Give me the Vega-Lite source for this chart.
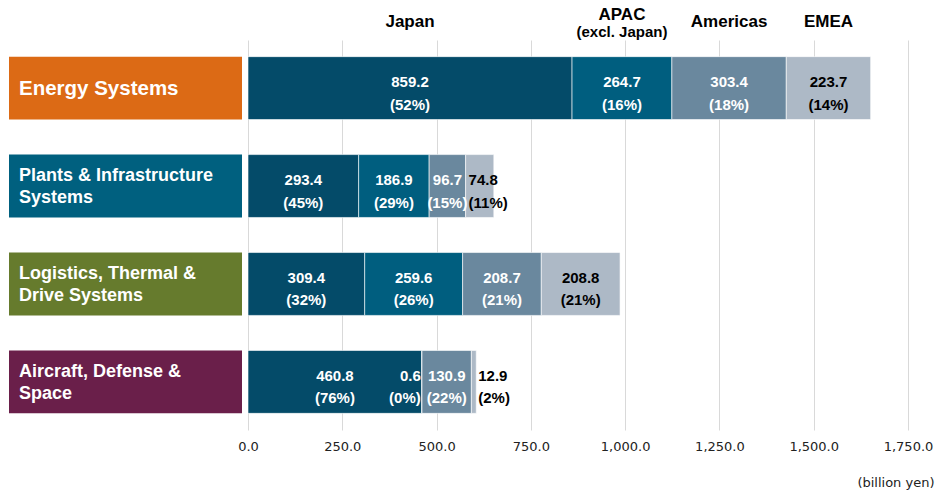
{
  "$schema": "https://vega.github.io/schema/vega-lite/v6.json",
  "autosize": {"type": "pad"},
  "padding": {"left": 9, "top": 5, "right": 4, "bottom": 4},
  "bounds": "flush",
  "spacing": 6,
  "config": {"view": {"stroke": null}, "font": "Liberation Sans"},
  "datasets": {
    "segments": [
      {"segment": "Energy Systems", "label": "Energy Systems"},
      {"segment": "Plants & Infrastructure Systems", "label": "Plants & Infrastructure\nSystems"},
      {"segment": "Logistics, Thermal & Drive Systems", "label": "Logistics, Thermal &\nDrive Systems"},
      {"segment": "Aircraft, Defense & Space", "label": "Aircraft, Defense &\nSpace"}
    ],
    "sales": [
      {"segment": "Energy Systems", "region": "Japan", "ord": 1, "value": 859.2, "pct": 52},
      {"segment": "Energy Systems", "region": "APAC (excl. Japan)", "ord": 2, "value": 264.7, "pct": 16},
      {"segment": "Energy Systems", "region": "Americas", "ord": 3, "value": 303.4, "pct": 18},
      {"segment": "Energy Systems", "region": "EMEA", "ord": 4, "value": 223.7, "pct": 14},
      {"segment": "Plants & Infrastructure Systems", "region": "Japan", "ord": 1, "value": 293.4, "pct": 45},
      {"segment": "Plants & Infrastructure Systems", "region": "APAC (excl. Japan)", "ord": 2, "value": 186.9, "pct": 29},
      {"segment": "Plants & Infrastructure Systems", "region": "Americas", "ord": 3, "value": 96.7, "pct": 15},
      {"segment": "Plants & Infrastructure Systems", "region": "EMEA", "ord": 4, "value": 74.8, "pct": 11},
      {"segment": "Logistics, Thermal & Drive Systems", "region": "Japan", "ord": 1, "value": 309.4, "pct": 32},
      {"segment": "Logistics, Thermal & Drive Systems", "region": "APAC (excl. Japan)", "ord": 2, "value": 259.6, "pct": 26},
      {"segment": "Logistics, Thermal & Drive Systems", "region": "Americas", "ord": 3, "value": 208.7, "pct": 21},
      {"segment": "Logistics, Thermal & Drive Systems", "region": "EMEA", "ord": 4, "value": 208.8, "pct": 21},
      {"segment": "Aircraft, Defense & Space", "region": "Japan", "ord": 1, "value": 460.8, "pct": 76},
      {"segment": "Aircraft, Defense & Space", "region": "APAC (excl. Japan)", "ord": 2, "value": 0.6, "pct": 0},
      {"segment": "Aircraft, Defense & Space", "region": "Americas", "ord": 3, "value": 130.9, "pct": 22},
      {"segment": "Aircraft, Defense & Space", "region": "EMEA", "ord": 4, "value": 12.9, "pct": 2}
    ]
  },
  "resolve": {"scale": {"x": "independent", "color": "independent"}},
  "hconcat": [
    {
      "width": 233,
      "height": 390,
      "data": {"name": "segments"},
      "encoding": {
        "y": {"field": "segment", "type": "nominal", "axis": null,
              "scale": {"domain": ["Energy Systems", "Plants & Infrastructure Systems", "Logistics, Thermal & Drive Systems", "Aircraft, Defense & Space"], "paddingInner": 0.358, "paddingOuter": 0.17}}
      },
      "layer": [
        {
          "mark": {"type": "bar"},
          "encoding": {
            "x": {"datum": 0, "type": "quantitative", "scale": {"domain": [0, 1], "nice": false}, "axis": null},
            "x2": {"datum": 1},
            "color": {"field": "segment", "type": "nominal", "legend": null,
                      "scale": {"domain": ["Energy Systems", "Plants & Infrastructure Systems", "Logistics, Thermal & Drive Systems", "Aircraft, Defense & Space"],
                                "range": ["#DC6A15", "#00607F", "#667B2D", "#6A1F4A"]}}
          }
        },
        {
          "transform": [{"filter": "indexof(datum.label, '\\n') < 0"}],
          "mark": {"type": "text", "align": "left", "baseline": "middle", "dx": 10, "dy": 1, "color": "white", "fontWeight": "bold", "fontSize": 20.5},
          "encoding": {
            "x": {"datum": 0, "type": "quantitative"},
            "text": {"field": "label"}
          }
        },
        {
          "transform": [{"filter": "indexof(datum.label, '\\n') >= 0"}],
          "mark": {"type": "text", "align": "left", "baseline": "middle", "dx": 10, "dy": -10, "color": "white", "fontWeight": "bold", "fontSize": 18, "lineBreak": "\n", "lineHeight": 22},
          "encoding": {
            "x": {"datum": 0, "type": "quantitative"},
            "text": {"field": "label"}
          }
        }
      ]
    },
    {
      "width": 660,
      "height": 390,
      "data": {"name": "sales"},
      "transform": [
        {"stack": "value", "groupby": ["segment"], "sort": [{"field": "ord", "order": "ascending"}], "as": ["x0", "x1"]},
        {"calculate": "(datum.x0 + datum.x1) / 2", "as": "mid"},
        {"calculate": "[format(datum.value, ',.1f'), '(' + datum.pct + '%)']", "as": "lab"},
        {"calculate": "split(datum.region, ' (')[0]", "as": "main"},
        {"calculate": "indexof(datum.region, '(') >= 0 ? '(' + split(datum.region, ' (')[1] : ''", "as": "sub"}
      ],
      "encoding": {
        "y": {"field": "segment", "type": "nominal", "axis": null,
              "scale": {"domain": ["Energy Systems", "Plants & Infrastructure Systems", "Logistics, Thermal & Drive Systems", "Aircraft, Defense & Space"], "paddingInner": 0.358, "paddingOuter": 0.17}}
      },
      "layer": [
        {
          "mark": {"type": "bar", "stroke": "#ffffff", "strokeWidth": 0.6},
          "encoding": {
            "x": {"field": "x0", "type": "quantitative",
                  "scale": {"domain": [0, 1750], "nice": false},
                  "axis": {"title": "(billion yen)", "format": ",.1f", "values": [0, 250, 500, 750, 1000, 1250, 1500, 1750],
                           "grid": true, "gridColor": "#d9d9d9", "domain": false, "ticks": false, "labelFlush": false,
                           "labelFont": "DejaVu Sans", "labelFontSize": 13, "labelColor": "#222222", "labelPadding": 10,
                           "titleFont": "DejaVu Sans", "titleFontSize": 13, "titleFontWeight": "normal", "titleColor": "#222222",
                           "titleAlign": "right", "titleX": 686, "titleY": 56, "titleBaseline": "alphabetic"}},
            "x2": {"field": "x1"},
            "color": {"field": "region", "type": "nominal", "legend": null,
                      "scale": {"domain": ["Japan", "APAC (excl. Japan)", "Americas", "EMEA"],
                                "range": ["#044B69", "#005E7F", "#6A889E", "#ADB9C6"]}}
          }
        },
        {
          "transform": [{"filter": "datum.value >= 80"}],
          "mark": {"type": "text", "align": "center", "baseline": "middle", "fontWeight": "bold", "fontSize": 15, "lineHeight": 22.5, "dy": -6},
          "encoding": {
            "x": {"field": "mid", "type": "quantitative"},
            "text": {"field": "lab"},
            "color": {"condition": {"test": "datum.region === 'EMEA'", "value": "#000000"}, "value": "#ffffff"}
          }
        },
        {
          "transform": [{"filter": "datum.value >= 20 && datum.value < 80"}],
          "mark": {"type": "text", "align": "left", "baseline": "middle", "fontWeight": "bold", "fontSize": 15, "lineHeight": 22.5, "dy": -6, "dx": 3},
          "encoding": {
            "x": {"field": "x0", "type": "quantitative"},
            "text": {"field": "lab"},
            "color": {"condition": {"test": "datum.region === 'EMEA'", "value": "#000000"}, "value": "#ffffff"}
          }
        },
        {
          "transform": [{"filter": "datum.value < 1"}],
          "mark": {"type": "text", "align": "right", "baseline": "middle", "fontWeight": "bold", "fontSize": 15, "lineHeight": 22.5, "dy": -6, "dx": -1},
          "encoding": {
            "x": {"field": "x0", "type": "quantitative"},
            "text": {"field": "lab"},
            "color": {"value": "#ffffff"}
          }
        },
        {
          "transform": [{"filter": "datum.value >= 1 && datum.value < 20"}],
          "mark": {"type": "text", "align": "left", "baseline": "middle", "fontWeight": "bold", "fontSize": 15, "lineHeight": 22.5, "dy": -6, "dx": 2},
          "encoding": {
            "x": {"field": "x1", "type": "quantitative"},
            "text": {"field": "lab"},
            "color": {"value": "#000000"}
          }
        },
        {
          "transform": [{"filter": "datum.segment === 'Energy Systems' && datum.sub === ''"}],
          "mark": {"type": "text", "align": "center", "baseline": "alphabetic", "fontWeight": "bold", "fontSize": 17, "dy": -61, "color": "#000000"},
          "encoding": {
            "x": {"field": "mid", "type": "quantitative"},
            "text": {"field": "main"}
          }
        },
        {
          "transform": [{"filter": "datum.segment === 'Energy Systems' && datum.sub !== ''"}],
          "mark": {"type": "text", "align": "center", "baseline": "alphabetic", "fontWeight": "bold", "fontSize": 17, "dy": -68.5, "color": "#000000"},
          "encoding": {
            "x": {"field": "mid", "type": "quantitative"},
            "text": {"field": "main"}
          }
        },
        {
          "transform": [{"filter": "datum.segment === 'Energy Systems' && datum.sub !== ''"}],
          "mark": {"type": "text", "align": "center", "baseline": "alphabetic", "fontWeight": "bold", "fontSize": 15, "dy": -51.5, "color": "#000000"},
          "encoding": {
            "x": {"field": "mid", "type": "quantitative"},
            "text": {"field": "sub"}
          }
        }
      ]
    }
  ]
}
